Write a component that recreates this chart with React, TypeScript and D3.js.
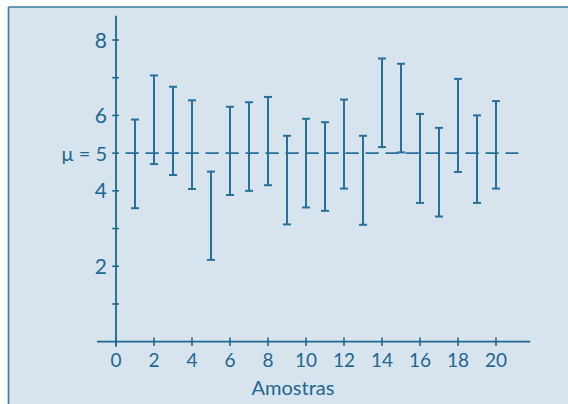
import React from "react";
import * as d3 from "d3";

const samples = [1, 2, 3, 4, 5, 6, 7, 8, 9, 10, 11, 12, 13, 14, 15, 16, 17, 18, 19, 20];
const upper = [5.89, 7.06, 6.76, 6.40, 4.51, 6.23, 6.35, 6.49, 5.46, 5.91, 5.82, 6.42, 5.46, 7.51, 7.37, 6.04, 5.67, 6.97, 6.00, 6.38];
const lower = [3.54, 4.71, 4.42, 4.05, 2.17, 3.89, 4.00, 4.15, 3.11, 3.56, 3.47, 4.06, 3.10, 5.16, 5.02, 3.68, 3.32, 4.50, 3.68, 4.06];
const mu = 5;
const xTicks = [0, 2, 4, 6, 8, 10, 12, 14, 16, 18, 20];
const yTicks = [1, 2, 3, 4, 5, 6, 7, 8];
const yLabels = [2, 4, 6, 8];
const xTitle = "Amostras";
const muLabel = "\u03bc = 5";

const W = 568;
const H = 404;
const BG = "#d7e4ee";
const INK = "#1f6690";
const BAR = "#27709b";
const FONT = "Lato, 'Noto Sans', sans-serif";

export default function App() {
  const x = d3.scaleLinear().domain([0, 20]).range([116, 496]);
  const y = d3.scaleLinear().domain([0, 8]).range([341.7, 40]);
  const cap = 4;

  return (
    <svg
      width={W}
      height={H}
      style={{ position: "absolute", left: 0, top: 0, display: "block" }}
    >
      <rect x={0} y={0} width={W} height={H} fill="#ffffff" />
      <rect x={8.5} y={7} width={W} height={H} fill={BG} />
      <line x1={8.5} y1={7} x2={W} y2={7} stroke="#3b7ba0" strokeWidth={1.6} />
      <line x1={8.5} y1={7} x2={8.5} y2={H} stroke="#3b7ba0" strokeWidth={1.6} />

      {/* mu dashed line */}
      <line
        x1={x(0.5)}
        x2={x(21.18)}
        y1={y(mu)}
        y2={y(mu)}
        stroke={BAR}
        strokeWidth={1.8}
        strokeDasharray="13.3 6.7"
      />

      {/* axes */}
      <line x1={x(-1)} x2={x(21.8)} y1={y(0)} y2={y(0)} stroke={INK} strokeWidth={1.8} />
      <line x1={x(0)} x2={x(0)} y1={y(0) + 5} y2={y(8.64)} stroke={INK} strokeWidth={1.8} />

      {xTicks.map((t) => (
        <g key={"xt" + t}>
          <line x1={x(t)} x2={x(t)} y1={y(0) - 4.3} y2={y(0) + 4.3} stroke={INK} strokeWidth={1.6} />
          <text
            x={x(t)}
            y={367}
            textAnchor="middle"
            fontFamily={FONT}
            fontSize={19}
            fill={INK}
          >
            {t}
          </text>
        </g>
      ))}

      {yTicks.map((t) => (
        <line key={"yt" + t} x1={x(0) - 3.8} x2={x(0) + 3} y1={y(t)} y2={y(t)} stroke={INK} strokeWidth={1.6} />
      ))}
      {yLabels.map((t) => (
        <text
          key={"yl" + t}
          x={107}
          y={y(t)}
          dy="0.36em"
          textAnchor="end"
          fontFamily={FONT}
          fontSize={21}
          fill={INK}
        >
          {t}
        </text>
      ))}
      <text
        x={107}
        y={y(mu)}
        dy="0.4em"
        textAnchor="end"
        fontFamily={FONT}
        fontSize={20}
        fill={INK}
      >
        {muLabel}
      </text>

      <text
        x={293}
        y={395}
        textAnchor="middle"
        fontFamily={FONT}
        fontSize={20}
        fill={INK}
      >
        {xTitle}
      </text>

      {/* error bars */}
      {samples.map((s, i) => (
        <g key={"b" + s} stroke={BAR} strokeWidth={2}>
          <line x1={x(s)} x2={x(s)} y1={y(upper[i])} y2={y(lower[i])} />
          <line x1={x(s) - cap} x2={x(s) + cap} y1={y(upper[i])} y2={y(upper[i])} />
          <line x1={x(s) - cap} x2={x(s) + cap} y1={y(lower[i])} y2={y(lower[i])} />
        </g>
      ))}
    </svg>
  );
}
